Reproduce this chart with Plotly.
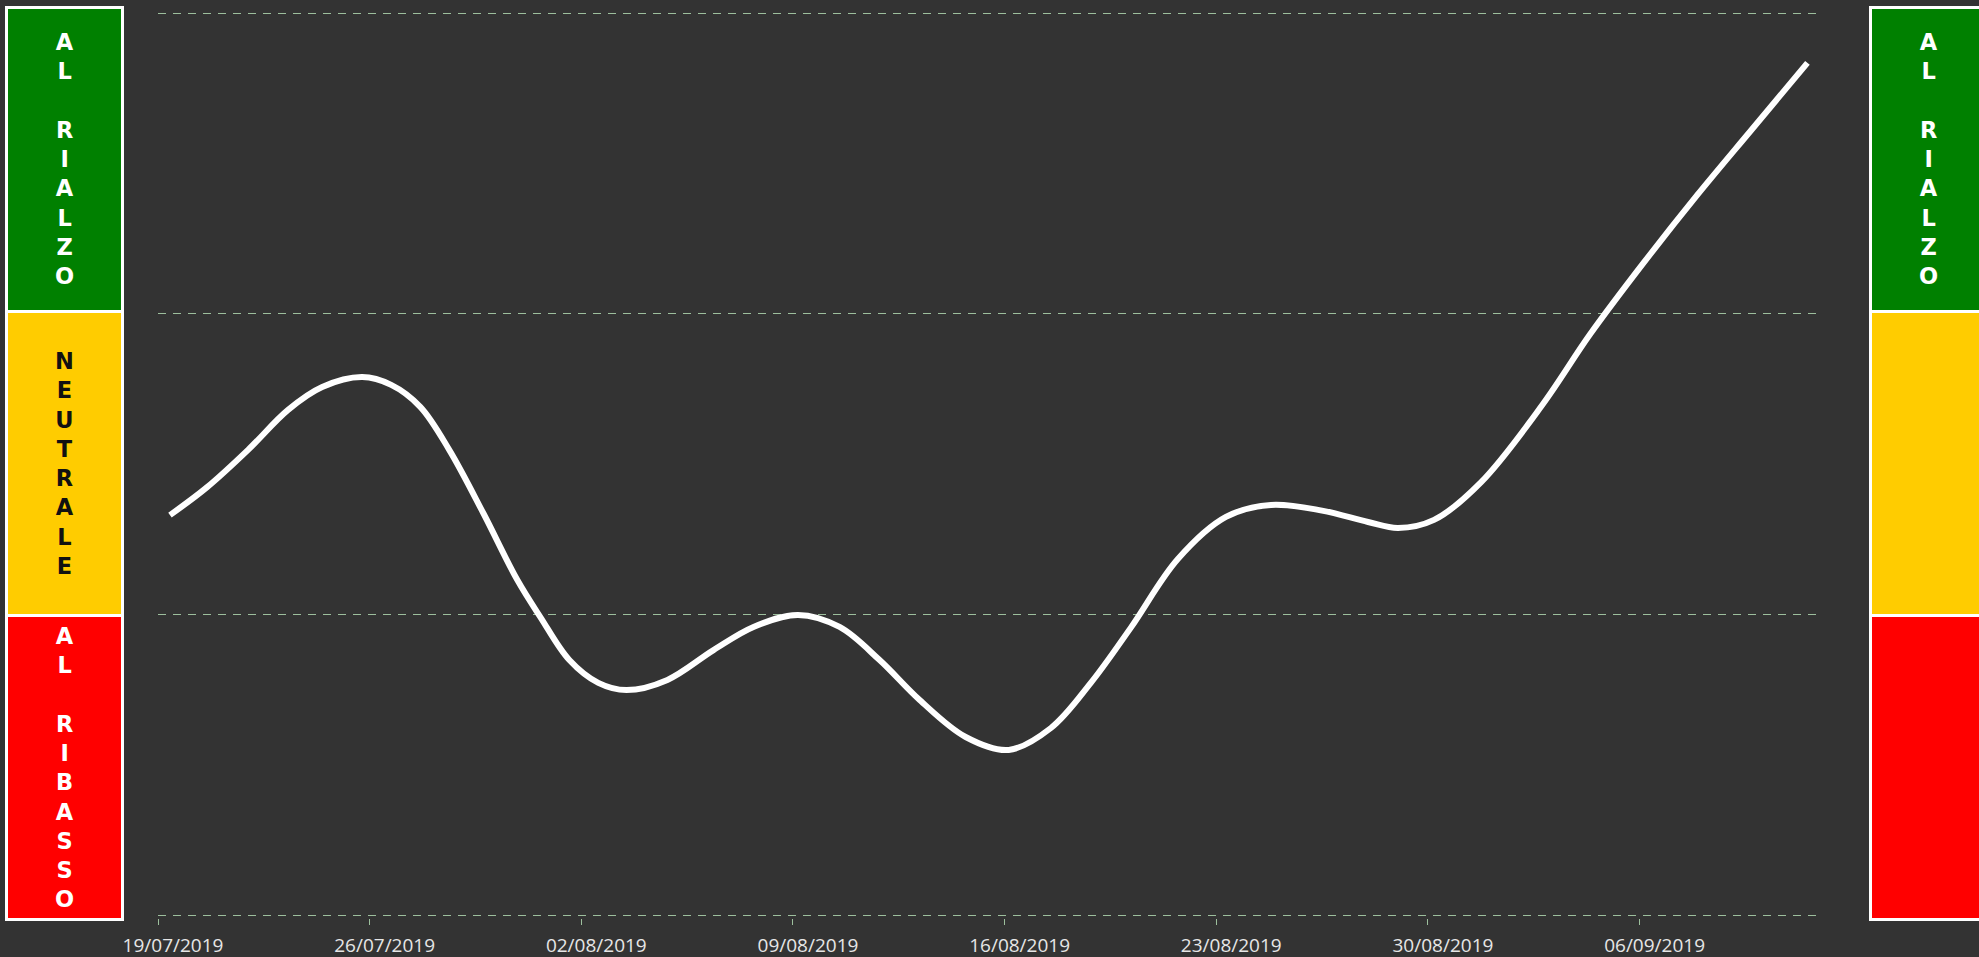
import plotly.graph_objects as go

# ---- data ----
dates = [
    "2019-07-19 09:30", "2019-07-20 15:00", "2019-07-21 23:30", "2019-07-23 07:15",
    "2019-07-24 10:20", "2019-07-25 18:05", "2019-07-26 17:05", "2019-07-27 16:10",
    "2019-07-28 15:10", "2019-07-29 18:10", "2019-07-30 21:15", "2019-07-31 15:30",
    "2019-08-01 14:30", "2019-08-02 13:30", "2019-08-03 11:50", "2019-08-04 20:20",
    "2019-08-06 08:55", "2019-08-07 16:40", "2019-08-09 04:00", "2019-08-10 13:00",
    "2019-08-11 20:45", "2019-08-13 04:35", "2019-08-14 17:05", "2019-08-16 03:15",
    "2019-08-17 12:45", "2019-08-18 20:25", "2019-08-20 04:05", "2019-08-21 17:30",
    "2019-08-23 07:40", "2019-08-24 19:25", "2019-08-26 11:55", "2019-08-28 00:30",
    "2019-08-29 00:15", "2019-08-30 04:50", "2019-08-31 18:15", "2019-09-02 18:45",
    "2019-09-04 08:50", "2019-09-06 03:45", "2019-09-07 21:50", "2019-09-09 16:45",
    "2019-09-11 13:15",
]
values = [
    1.330, 1.423, 1.547, 1.680,
    1.756, 1.789, 1.763, 1.690,
    1.547, 1.337, 1.114, 0.991,
    0.848, 0.772, 0.748, 0.782,
    0.881, 0.958, 0.998, 0.958,
    0.848, 0.715, 0.592, 0.549,
    0.622, 0.772, 0.955, 1.184,
    1.324, 1.364, 1.345, 1.307,
    1.287, 1.314, 1.440, 1.696,
    1.932, 2.172, 2.395, 2.611,
    2.834,
]
band_labels_left = ["AL RIALZO", "NEUTRALE", "AL RIBASSO"]
band_labels_right = ["AL RIALZO", "", ""]
band_colors = ["#008000", "#FFCC00", "#FF0000"]
band_text_colors = ["#FFFFFF", "#111111", "#FFFFFF"]
title_text = "TENDENZA DI FONDO"
x_start, x_end = "2019-07-19", "2019-09-12"
y_levels = [0, 1, 2, 3]

W, H = 1979, 957
ML, MR, MT, MB = 158, 158, 10, 39
PW, PH = W - ML - MR, H - MT - MB
YPAD = 3 / 300.67


def px_x(p):
    return (p - ML) / PW


def px_y(p):
    return (H - MB - p) / PH


def stack(label):
    return "<br>".join(ch if ch != " " else "" for ch in label)


BG = "#333333"
GRID = "#9dbf9d"

fig = go.Figure()
fig.add_trace(go.Scatter(
    x=dates, y=values, mode="lines",
    line=dict(color="white", width=6, shape="spline", smoothing=1.0),
    hoverinfo="skip",
))

shapes = []
annotations = []
edges = [7.5, 311.5, 615.5, 919.5]
boxes = [(6.5, 122.5, band_labels_left), (1870.5, 1986.5, band_labels_right)]
for (x0, x1, labels) in boxes:
    for i in range(3):
        shapes.append(dict(
            type="rect", xref="paper", yref="paper",
            x0=px_x(x0), x1=px_x(x1), y0=px_y(edges[i + 1]), y1=px_y(edges[i]),
            fillcolor=band_colors[i], line=dict(color="white", width=3), layer="above",
        ))
        if labels[i]:
            annotations.append(dict(
                xref="paper", yref="paper",
                x=px_x((x0 + x1) / 2), y=px_y((edges[i] + edges[i + 1]) / 2),
                text=stack(labels[i]), showarrow=False,
                xanchor="center", yanchor="middle", align="center",
                font=dict(family="DejaVu Sans", size=22.5, color=band_text_colors[i], weight="bold"),
            ))

annotations.append(dict(
    xref="paper", yref="paper", x=px_x(14), y=px_y(3),
    text=title_text, showarrow=False, xanchor="left", yanchor="bottom",
    font=dict(family="Liberation Sans", size=20, color="white", weight="bold"),
))

fig.update_layout(
    width=W, height=H,
    margin=dict(l=ML, r=MR, t=MT, b=MB, pad=0, autoexpand=False),
    paper_bgcolor=BG, plot_bgcolor=BG,
    showlegend=False,
    shapes=shapes, annotations=annotations,
    xaxis=dict(
        type="date", range=[x_start, x_end], automargin=False,
        tick0="2019-07-19", dtick=7 * 24 * 3600 * 1000, tickformat="%d/%m/%Y",
        ticks="outside", ticklen=6, tickcolor=GRID, tickwidth=1,
        showgrid=False, zeroline=False, showline=False,
        tickfont=dict(family="Open Sans", size=19, color="#e6e6e6"),
        ticklabelstandoff=4, ticklabelshift=15,
    ),
    yaxis=dict(
        range=[y_levels[0] - YPAD, y_levels[-1] + YPAD], tickvals=y_levels, showticklabels=False,
        showgrid=True, gridcolor=GRID, gridwidth=1, griddash="8px,7px",
        zeroline=False, showline=False, ticks="", automargin=False,
    ),
)

fig.write_html(
    "out.html",
    config={"displayModeBar": False},
    post_script="document.body.style.margin='0';document.body.style.overflow='hidden';",
)
